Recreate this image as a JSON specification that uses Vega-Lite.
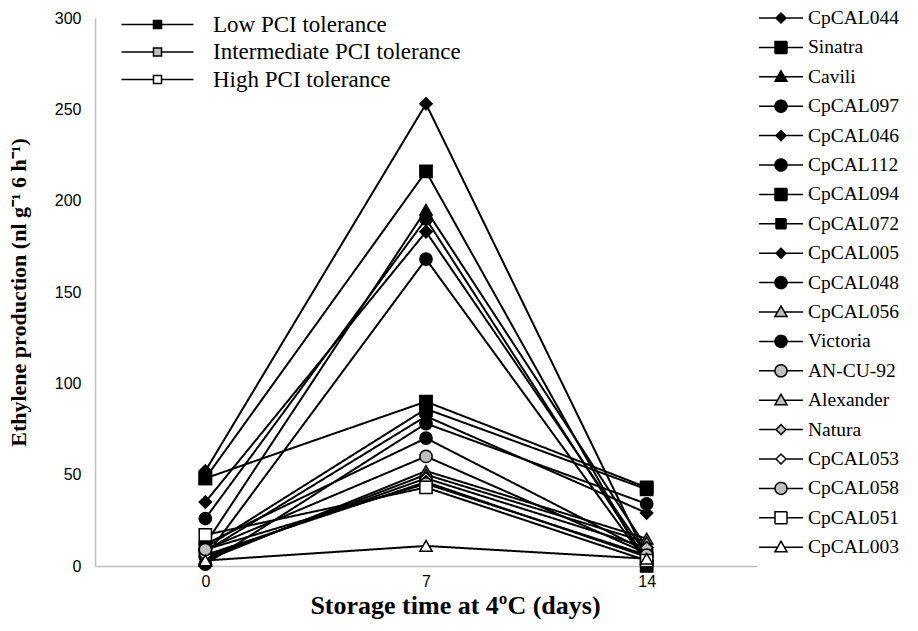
{
  "$schema": "https://vega.github.io/schema/vega-lite/v6.json",
  "width": 662,
  "height": 548,
  "autosize": {"type": "none"},
  "padding": {"left": 95, "top": 18, "right": 161, "bottom": 65},
  "background": "white",
  "config": {
    "view": {"stroke": null},
    "axis": {"grid": false, "ticks": false, "domainColor": "#c0c0c0", "domainWidth": 1.5, "labelFont": "Liberation Sans", "labelFontSize": 16, "labelColor": "#000000", "titleFont": "Liberation Serif", "titleFontWeight": "bold", "titleColor": "#000000"},
    "legend": {"labelFont": "Liberation Serif", "labelColor": "#000000", "padding": 0, "labelLimit": 400}
  },
  "data": {"values": [
    {"series": "CpCAL044", "group": "Low PCI tolerance", "day": "0", "value": 52},
    {"series": "CpCAL044", "group": "Low PCI tolerance", "day": "7", "value": 253},
    {"series": "CpCAL044", "group": "Low PCI tolerance", "day": "14", "value": 5},
    {"series": "Sinatra", "group": "Low PCI tolerance", "day": "0", "value": 48},
    {"series": "Sinatra", "group": "Low PCI tolerance", "day": "7", "value": 216},
    {"series": "Sinatra", "group": "Low PCI tolerance", "day": "14", "value": 0},
    {"series": "Cavili", "group": "Low PCI tolerance", "day": "0", "value": 12},
    {"series": "Cavili", "group": "Low PCI tolerance", "day": "7", "value": 195},
    {"series": "Cavili", "group": "Low PCI tolerance", "day": "14", "value": 10},
    {"series": "CpCAL097", "group": "Low PCI tolerance", "day": "0", "value": 26},
    {"series": "CpCAL097", "group": "Low PCI tolerance", "day": "7", "value": 190},
    {"series": "CpCAL097", "group": "Low PCI tolerance", "day": "14", "value": 3},
    {"series": "CpCAL046", "group": "Low PCI tolerance", "day": "0", "value": 35},
    {"series": "CpCAL046", "group": "Low PCI tolerance", "day": "7", "value": 183},
    {"series": "CpCAL046", "group": "Low PCI tolerance", "day": "14", "value": 6},
    {"series": "CpCAL112", "group": "Low PCI tolerance", "day": "0", "value": 5},
    {"series": "CpCAL112", "group": "Low PCI tolerance", "day": "7", "value": 168},
    {"series": "CpCAL112", "group": "Low PCI tolerance", "day": "14", "value": 2},
    {"series": "CpCAL094", "group": "Low PCI tolerance", "day": "0", "value": 48},
    {"series": "CpCAL094", "group": "Low PCI tolerance", "day": "7", "value": 90},
    {"series": "CpCAL094", "group": "Low PCI tolerance", "day": "14", "value": 43},
    {"series": "CpCAL072", "group": "Low PCI tolerance", "day": "0", "value": 10},
    {"series": "CpCAL072", "group": "Low PCI tolerance", "day": "7", "value": 86},
    {"series": "CpCAL072", "group": "Low PCI tolerance", "day": "14", "value": 42},
    {"series": "CpCAL005", "group": "Low PCI tolerance", "day": "0", "value": 8},
    {"series": "CpCAL005", "group": "Low PCI tolerance", "day": "7", "value": 82},
    {"series": "CpCAL005", "group": "Low PCI tolerance", "day": "14", "value": 29},
    {"series": "CpCAL048", "group": "Low PCI tolerance", "day": "0", "value": 1},
    {"series": "CpCAL048", "group": "Low PCI tolerance", "day": "7", "value": 78},
    {"series": "CpCAL048", "group": "Low PCI tolerance", "day": "14", "value": 34},
    {"series": "CpCAL056", "group": "Intermediate PCI tolerance", "day": "0", "value": 3},
    {"series": "CpCAL056", "group": "Intermediate PCI tolerance", "day": "7", "value": 52},
    {"series": "CpCAL056", "group": "Intermediate PCI tolerance", "day": "14", "value": 15},
    {"series": "Victoria", "group": "Low PCI tolerance", "day": "0", "value": 12},
    {"series": "Victoria", "group": "Low PCI tolerance", "day": "7", "value": 70},
    {"series": "Victoria", "group": "Low PCI tolerance", "day": "14", "value": 8},
    {"series": "AN-CU-92", "group": "Intermediate PCI tolerance", "day": "0", "value": 9},
    {"series": "AN-CU-92", "group": "Intermediate PCI tolerance", "day": "7", "value": 60},
    {"series": "AN-CU-92", "group": "Intermediate PCI tolerance", "day": "14", "value": 7},
    {"series": "Alexander", "group": "Intermediate PCI tolerance", "day": "0", "value": 4},
    {"series": "Alexander", "group": "Intermediate PCI tolerance", "day": "7", "value": 50},
    {"series": "Alexander", "group": "Intermediate PCI tolerance", "day": "14", "value": 13},
    {"series": "Natura", "group": "Intermediate PCI tolerance", "day": "0", "value": 5},
    {"series": "Natura", "group": "Intermediate PCI tolerance", "day": "7", "value": 48},
    {"series": "Natura", "group": "Intermediate PCI tolerance", "day": "14", "value": 10},
    {"series": "CpCAL053", "group": "High PCI tolerance", "day": "0", "value": 6},
    {"series": "CpCAL053", "group": "High PCI tolerance", "day": "7", "value": 46},
    {"series": "CpCAL053", "group": "High PCI tolerance", "day": "14", "value": 5},
    {"series": "CpCAL058", "group": "Intermediate PCI tolerance", "day": "0", "value": 9},
    {"series": "CpCAL058", "group": "Intermediate PCI tolerance", "day": "7", "value": 45},
    {"series": "CpCAL058", "group": "Intermediate PCI tolerance", "day": "14", "value": 6},
    {"series": "CpCAL051", "group": "High PCI tolerance", "day": "0", "value": 17},
    {"series": "CpCAL051", "group": "High PCI tolerance", "day": "7", "value": 43},
    {"series": "CpCAL051", "group": "High PCI tolerance", "day": "14", "value": 3},
    {"series": "CpCAL003", "group": "High PCI tolerance", "day": "0", "value": 3},
    {"series": "CpCAL003", "group": "High PCI tolerance", "day": "7", "value": 11},
    {"series": "CpCAL003", "group": "High PCI tolerance", "day": "14", "value": 4}
  ]},
  "encoding": {
    "x": {"field": "day", "type": "ordinal", "sort": ["0", "7", "14"], "scale": {"type": "point", "padding": 0.5},
      "axis": {"labelAngle": 0, "labelPadding": 7, "title": "Storage time at 4ºC (days)", "titleFontSize": 26, "titlePadding": 3, "titleX": 360, "titleAlign": "center"}},
    "y": {"field": "value", "type": "quantitative", "scale": {"domain": [0, 300], "nice": false},
      "axis": {"values": [0, 50, 100, 150, 200, 250, 300], "labelPadding": 14, "title": "Ethylene production (nl g⁻¹ 6 h⁻¹)", "titleFontSize": 22, "titlePadding": 24}}
  },
  "layer": [
    {
      "mark": {"type": "line", "strokeWidth": 2},
      "encoding": {
        "detail": {"field": "series"},
        "stroke": {"field": "group", "type": "nominal",
          "scale": {"domain": ["Low PCI tolerance", "Intermediate PCI tolerance", "High PCI tolerance"], "range": ["#000000", "#000000", "#000000"]},
          "legend": {"title": null, "orient": "none", "legendX": 51, "legendY": -5, "symbolSize": 144, "labelFontSize": 23, "labelOffset": 44, "rowPadding": 3.5,
            "encode": {"symbols": {"update": {
              "shape": {"value": "M-6,0H-0.67M0.67,0H6M-0.67,-0.67H0.67V0.67H-0.67Z"},
              "fill": {"signal": "datum.value === 'Low PCI tolerance' ? '#000000' : datum.value === 'Intermediate PCI tolerance' ? '#bfbfbf' : '#ffffff'"},
              "stroke": {"value": "#000000"},
              "strokeWidth": {"value": 1.5},
              "opacity": {"value": 1}
            }}}}
        },
        "strokeDash": {"field": "series", "type": "nominal",
          "sort": ["CpCAL044", "Sinatra", "Cavili", "CpCAL097", "CpCAL046", "CpCAL112", "CpCAL094", "CpCAL072", "CpCAL005", "CpCAL048", "CpCAL056", "Victoria", "AN-CU-92", "Alexander", "Natura", "CpCAL053", "CpCAL058", "CpCAL051", "CpCAL003"],
          "scale": {"range": [[1, 0], [1, 0], [1, 0], [1, 0], [1, 0], [1, 0], [1, 0], [1, 0], [1, 0], [1, 0], [1, 0], [1, 0], [1, 0], [1, 0], [1, 0], [1, 0], [1, 0], [1, 0], [1, 0]]},
          "legend": {"title": null, "orient": "none", "legendX": 675, "legendY": -11, "symbolSize": 400, "labelFontSize": 19.5, "labelOffset": 16, "rowPadding": 8.4,
            "encode": {"symbols": {"update": {
              "shape": {"signal": "indexof(['Sinatra','CpCAL094','CpCAL051'], datum.value) >= 0 ? 'M-2.2,0H-0.6M0.6,0H2.2M-0.6,-0.6H0.6V0.6H-0.6Z' : datum.value === 'CpCAL072' ? 'M-2.2,0H-0.5M0.5,0H2.2M-0.5,-0.5H0.5V0.5H-0.5Z' : indexof(['CpCAL044','CpCAL046','CpCAL005','Natura','CpCAL053'], datum.value) >= 0 ? 'M-2.2,0H-0.5M0.5,0H2.2M0,-0.5L0.5,0L0,0.5L-0.5,0Z' : indexof(['Cavili','CpCAL056','Alexander','CpCAL003'], datum.value) >= 0 ? 'M-2.2,0H-0.35M0.35,0H2.2M0,-0.6L0.6,0.45L-0.6,0.45Z' : 'M-2.2,0H-0.6M0.6,0H2.2M-0.6,0A0.6,0.6,0,1,1,0.6,0A0.6,0.6,0,1,1,-0.6,0Z'"},
              "fill": {"signal": "indexof(['CpCAL056','AN-CU-92','Alexander','Natura','CpCAL058'], datum.value) >= 0 ? '#bfbfbf' : indexof(['CpCAL053','CpCAL051','CpCAL003'], datum.value) >= 0 ? '#ffffff' : '#000000'"},
              "stroke": {"value": "#000000"},
              "strokeWidth": {"value": 1.5},
              "opacity": {"value": 1}
            }}}}
        }
      }
    },
    {
      "mark": {"type": "point", "filled": true, "stroke": "#000000", "strokeWidth": 1.5, "size": 150, "opacity": 1},
      "encoding": {
        "shape": {"field": "series", "type": "nominal", "legend": null,
          "scale": {"domain": ["CpCAL044", "Sinatra", "Cavili", "CpCAL097", "CpCAL046", "CpCAL112", "CpCAL094", "CpCAL072", "CpCAL005", "CpCAL048", "CpCAL056", "Victoria", "AN-CU-92", "Alexander", "Natura", "CpCAL053", "CpCAL058", "CpCAL051", "CpCAL003"],
            "range": ["diamond", "square", "triangle-up", "circle", "diamond", "circle", "square", "square", "diamond", "circle", "triangle-up", "circle", "circle", "triangle-up", "diamond", "diamond", "circle", "square", "triangle-up"]}
        },
        "fill": {"field": "series", "type": "nominal", "legend": null,
          "scale": {"domain": ["CpCAL044", "Sinatra", "Cavili", "CpCAL097", "CpCAL046", "CpCAL112", "CpCAL094", "CpCAL072", "CpCAL005", "CpCAL048", "CpCAL056", "Victoria", "AN-CU-92", "Alexander", "Natura", "CpCAL053", "CpCAL058", "CpCAL051", "CpCAL003"],
            "range": ["#000000", "#000000", "#000000", "#000000", "#000000", "#000000", "#000000", "#000000", "#000000", "#000000", "#bfbfbf", "#000000", "#bfbfbf", "#bfbfbf", "#bfbfbf", "#ffffff", "#bfbfbf", "#ffffff", "#ffffff"]}
        }
      }
    }
  ]
}
